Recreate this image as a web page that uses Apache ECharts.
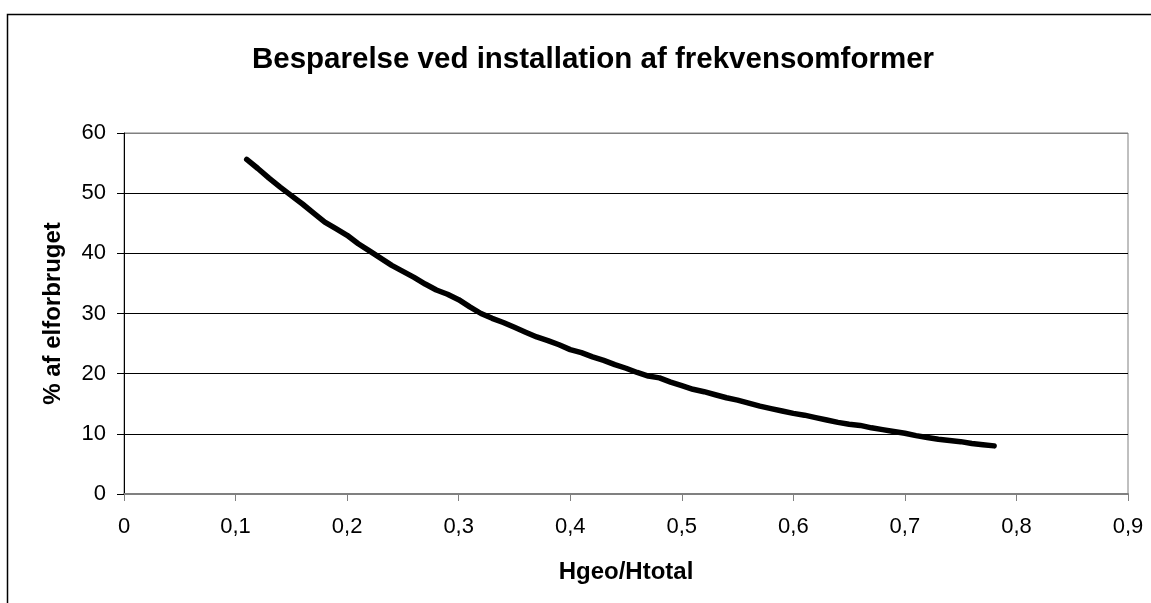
<!DOCTYPE html>
<html>
<head>
<meta charset="utf-8">
<script src="https://cdn.jsdelivr.net/npm/echarts@6/dist/echarts.min.js"></script>
<style>
html,body{margin:0;padding:0;background:#fff;}
#chart{width:1151px;height:603px;}
</style>
</head>
<body>
<div id="chart"></div>
<script>
const titleText = 'Besparelse ved installation af frekvensomformer';
const xName = 'Hgeo/Htotal';
const yName = '% af elforbruget';
const xValues = [0.11,0.12,0.13,0.14,0.15,0.16,0.17,0.18,0.19,0.20,0.21,0.22,0.23,0.24,0.25,0.26,0.27,0.28,0.29,0.30,
  0.31,0.32,0.33,0.34,0.35,0.36,0.37,0.38,0.39,0.40,0.41,0.42,0.43,0.44,0.45,0.46,0.47,0.48,0.49,0.50,
  0.51,0.52,0.53,0.54,0.55,0.56,0.57,0.58,0.59,0.60,0.61,0.62,0.63,0.64,0.65,0.66,0.67,0.68,0.69,0.70,
  0.71,0.72,0.73,0.74,0.75,0.76,0.77,0.78];
const yValues = [55.6,54.1,52.5,51.0,49.6,48.2,46.7,45.2,44.1,43.0,41.6,40.4,39.2,38.0,37.0,36.0,34.9,33.9,33.2,32.3,
  31.1,30.0,29.2,28.5,27.7,26.9,26.1,25.5,24.8,24.0,23.5,22.8,22.2,21.5,20.9,20.2,19.6,19.3,18.6,18.0,
  17.4,17.0,16.5,16.0,15.6,15.1,14.6,14.2,13.8,13.4,13.1,12.7,12.3,11.9,11.6,11.4,11.0,10.7,10.4,10.1,
  9.7,9.4,9.1,8.9,8.7,8.4,8.2,8.0];

const font = 'Liberation Sans, Arial, sans-serif';
const chart = echarts.init(document.getElementById('chart'), null, {renderer:'canvas'});
const seriesData = xValues.map((x,i)=>[x,yValues[i]]);
chart.setOption({
  animation:false,
  backgroundColor:'#fff',
  title:{
    text:titleText, left:588, top:40, textAlign:'center',
    textStyle:{fontFamily:font,fontSize:29.5,fontWeight:'bold',color:'#000'}
  },
  grid:{left:124,right:23,top:133,bottom:109,show:true,borderColor:'#808080',borderWidth:1,backgroundColor:'transparent'},
  xAxis:{
    type:'value',min:0,max:0.9,interval:0.1,
    name:xName,nameLocation:'middle',nameGap:66,
    nameTextStyle:{fontFamily:font,fontSize:24,fontWeight:'bold',color:'#000'},
    axisLine:{show:true,onZero:false,lineStyle:{color:'#808080',width:2}},
    axisTick:{show:true,inside:false,length:7,lineStyle:{color:'#808080',width:1}},
    axisLabel:{fontFamily:font,fontSize:22,color:'#000',margin:22,
      formatter:v=>String(Math.round(v*10)/10).replace('.',',')},
    splitLine:{show:false}
  },
  yAxis:{
    type:'value',min:0,max:60,interval:10,
    name:yName,nameLocation:'middle',nameGap:59,nameRotate:90,
    nameTextStyle:{fontFamily:font,fontSize:24,fontWeight:'bold',color:'#000'},
    axisLine:{show:true,lineStyle:{color:'#000',width:1}},
    axisTick:{show:true,inside:false,length:7,lineStyle:{color:'#000',width:1}},
    axisLabel:{fontFamily:font,fontSize:22,color:'#000',margin:18},
    splitLine:{show:true,lineStyle:{color:['#808080','#000','#000','#000','#000','#000','#808080'],width:1}}
  },
  graphic:[{type:'rect',shape:{x:7.5,y:14.5,width:1300,height:800},style:{fill:'none',stroke:'#000',lineWidth:1.5},silent:true,z:-1}],
  series:[{
    type:'line',data:seriesData,showSymbol:false,symbol:'none',smooth:false,
    lineStyle:{color:'#000',width:5.5,cap:'round',join:'round'}
  }]
});
</script>
</body>
</html>
